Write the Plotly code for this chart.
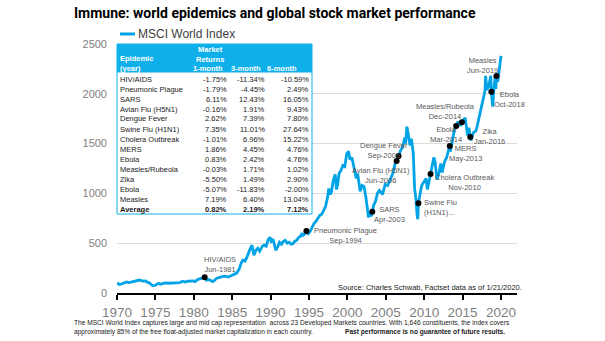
import plotly.graph_objects as go

# ---------------- DATA ----------------
dates = [
 "1970-01","1970-05","1970-07","1970-12","1971-04","1971-08","1971-12","1972-04","1972-08","1972-12",
 "1973-03","1973-06","1973-10","1973-12","1974-03","1974-06","1974-09","1974-12","1975-03","1975-06",
 "1975-09","1975-12","1976-04","1976-09","1976-12","1977-05","1977-10","1978-03","1978-08","1978-11",
 "1979-04","1979-09","1979-12","1980-03","1980-06","1980-11","1981-03","1981-06","1981-09","1981-12",
 "1982-03","1982-07","1982-10","1982-12","1983-04","1983-08","1983-12","1984-03","1984-07","1984-12",
 "1985-04","1985-08","1985-12","1986-03","1986-06","1986-09","1986-12","1987-03","1987-05","1987-08",
 "1987-10","1987-11","1988-02","1988-05","1988-08","1988-12","1989-03","1989-06","1989-09","1989-12",
 "1990-02","1990-05","1990-09","1990-12","1991-03","1991-06","1991-09","1991-12","1992-03","1992-06",
 "1992-09","1992-12","1993-03","1993-06","1993-09","1993-12","1994-02","1994-04","1994-06","1994-09",
 "1994-12","1995-03","1995-06","1995-09","1995-12","1996-03","1996-06","1996-09","1996-12","1997-03",
 "1997-06","1997-08","1997-10","1997-12","1998-03","1998-06","1998-08","1998-10","1998-12","1999-03",
 "1999-06","1999-09","1999-12","2000-03","2000-05","2000-08","2000-10","2000-12","2001-03","2001-05",
 "2001-09","2001-12","2002-03","2002-06","2002-09","2002-10","2002-12","2003-02","2003-04","2003-06",
 "2003-09","2003-12","2004-03","2004-08","2004-12","2005-04","2005-08","2005-12","2006-04","2006-06",
 "2006-09","2006-12","2007-03","2007-07","2007-08","2007-10","2007-12","2008-03","2008-05","2008-08",
 "2008-10","2008-12","2009-02","2009-03","2009-04","2009-06","2009-09","2009-12","2010-04","2010-06",
 "2010-09","2010-11","2011-04","2011-06","2011-09","2011-12","2012-03","2012-05","2012-09","2012-12",
 "2013-03","2013-05","2013-06","2013-09","2013-12","2014-03","2014-06","2014-10","2014-12","2015-05",
 "2015-09","2015-11","2016-01","2016-02","2016-06","2016-10","2016-12","2017-03","2017-06","2017-09",
 "2017-12","2018-01","2018-03","2018-06","2018-09","2018-10","2018-12","2019-02","2019-04","2019-05",
 "2019-06","2019-08","2019-10","2019-12","2020-01"]
msci = [
 100,85,88,98,110,104,110,120,125,130,
 125,120,122,108,105,92,72,75,90,98,
 88,95,102,98,100,102,100,105,118,110,
 118,125,122,115,130,145,148,158,130,135,
 125,115,130,145,155,165,170,168,160,175,
 190,200,240,300,330,320,360,420,440,480,
 400,380,430,450,420,470,480,470,530,560,
 520,540,430,460,510,490,520,530,500,510,
 490,495,520,530,560,570,600,580,590,622,
 595,620,660,700,720,750,780,790,840,870,
 960,1050,990,1010,1130,1190,1040,1100,1200,1230,
 1280,1270,1400,1420,1340,1360,1300,1240,1150,1200,
 1020,1080,1070,960,780,760,810,770,816,880,
 920,1000,1030,990,1090,1080,1140,1200,1310,1325,
 1375,1430,1460,1560,1500,1670,1600,1480,1550,1400,
 1050,950,780,740,900,960,1080,1110,1150,1040,
 1120,1195,1360,1320,1140,1200,1300,1210,1320,1360,
 1430,1476,1420,1540,1630,1677,1720,1680,1714,1760,
 1580,1660,1566,1530,1610,1630,1680,1760,1850,1920,
 2030,2180,2040,2080,2180,2021,1870,2050,2180,2050,
 2179,2120,2230,2350,2380]

event_names = ["HIV/AIDS","Pneumonic Plague","SARS","Avian Flu (H5N1)","Dengue Fever",
               "Swine Flu","Cholera Outbreak","MERS","Ebola","Measles/Rubeola","Zika","Ebola","Measles"]
event_labels = ["Jun-1981","Sep-1994","Apr-2003","Jun-2006","Sep-2006","(H1N1)...","Nov-2010",
                "May-2013","Mar-2014","Dec-2014","Jan-2016","Oct-2018","Jun-2019"]
event_dates = ["1981-06","1994-09","2003-04","2006-06","2006-09","2009-04","2010-11",
               "2013-05","2014-03","2014-12","2016-01","2018-10","2019-06"]
event_values = [158,622,816,1325,1375,900,1195,1476,1677,1714,1566,2021,2179]

table_epidemics = ["HIV/AIDS","Pneumonic Plague","SARS","Avian Flu (H5N1)","Dengue Fever",
                   "Swine Flu (H1N1)","Cholera Outbreak","MERS","Ebola","Measles/Rubeola",
                   "Zika","Ebola","Measles"]
ret_1m = [-1.75,-1.79,6.11,-0.16,2.62,7.35,-1.01,1.86,0.83,-0.03,-5.50,-5.07,7.19]
ret_3m = [-11.34,-4.45,12.43,1.91,7.39,11.01,6.96,4.45,2.42,1.71,1.49,-11.83,6.40]
ret_6m = [-10.59,2.49,16.05,9.43,7.80,27.64,15.22,4.76,4.76,1.02,2.90,-2.00,13.04]
avg_returns = [0.82,2.19,7.12]

y_ticks = [0,500,1000,1500,2000,2500]

# ---------------- STYLE ----------------
W, H = 605, 341
L, R, T, B = 117, 88, 44, 48
PW, PH = W - L - R, H - T - B
BLUE = "#00a3e6"
CYAN = "#0fb0ea"
GRAY = "#595959"
FONT = "Liberation Sans"

def px(x):
    return (x - L) / PW

def py(y):
    return (H - B - y) / PH

fig = go.Figure()
fig.add_trace(go.Scatter(x=dates, y=msci, mode="lines",
                         line=dict(color=BLUE, width=2.8), showlegend=False,
                         hoverinfo="skip"))
fig.add_trace(go.Scatter(x=event_dates, y=event_values, mode="markers",
                         marker=dict(color="black", size=6), showlegend=False,
                         hoverinfo="skip"))

ann = []
# event labels (pixel offsets from the dot)
offsets = [(15,13,"center"),(39,-4.5,"center"),(17,-3,"center"),(-16,-14.5,"center"),
           (-15,5.5,"center"),(4,-4,"left"),(34,-8.5,"center"),(16,-7.5,"center"),
           (-10.5,-9,"center"),(-16,11,"center"),(19.5,1,"center"),(18,-8,"center"),
           (-14,10,"center")]
for n, lab, d, v, (dx, dy, al) in zip(event_names, event_labels, event_dates, event_values, offsets):
    ann.append(dict(x=d, y=v, xref="x", yref="y", text=f"{n}<br>{lab}", showarrow=False,
                    xshift=dx, yshift=dy, xanchor=al if al == "left" else "center",
                    align=al, yanchor="middle",
                    font=dict(family=FONT, size=7.5, color=GRAY)))

# title
ann.append(dict(x=px(72), y=py(13), xref="paper", yref="paper", xanchor="left", yanchor="middle",
                text="<b>Immune: world epidemics and global stock market performance</b>",
                showarrow=False, font=dict(family="Roboto", size=14, color="black")))
# legend text
ann.append(dict(x=px(136), y=py(34), xref="paper", yref="paper", xanchor="left", yanchor="middle",
                text="MSCI World Index", showarrow=False,
                font=dict(family=FONT, size=12, color="#404040")))
# source
ann.append(dict(x=px(336), y=py(287), xref="paper", yref="paper", xanchor="left", yanchor="middle",
                text="Source: Charles Schwab, Factset data as of 1/21/2020.", showarrow=False,
                font=dict(family=FONT, size=7.5, color="#222222")))
# footer
ann.append(dict(x=px(72), y=py(323), xref="paper", yref="paper", xanchor="left", yanchor="middle",
                text="The MSCI World Index captures large and mid cap representation  across 23 Developed Markets countries. With 1,646 constituents, the index covers",
                showarrow=False, font=dict(family=FONT, size=6.6, color="#222222")))
ann.append(dict(x=px(72), y=py(332), xref="paper", yref="paper", xanchor="left", yanchor="middle",
                text="approximately 85% of the free float-adjusted market capitalization in each country.",
                showarrow=False, font=dict(family=FONT, size=6.6, color="#222222")))
ann.append(dict(x=px(343), y=py(332), xref="paper", yref="paper", xanchor="left", yanchor="middle",
                text="<b>Past performance is no guarantee of future results.</b>",
                showarrow=False, font=dict(family=FONT, size=6.6, color="#222222")))

# table
TX0, TX1, TY0, TY1, HY1 = 117, 312, 44, 214, 72.5
shapes = [
    dict(type="rect", xref="paper", yref="paper", x0=px(TX0), x1=px(TX1), y0=py(TY1), y1=py(TY0),
         fillcolor="white", line=dict(color=CYAN, width=1), layer="above"),
    dict(type="rect", xref="paper", yref="paper", x0=px(TX0), x1=px(TX1), y0=py(HY1), y1=py(TY0),
         fillcolor=CYAN, line=dict(width=0), layer="above"),
    dict(type="line", xref="paper", yref="paper", x0=px(120), x1=px(135), y0=py(34), y1=py(34),
         line=dict(color=BLUE, width=3)),
]
hfont = dict(family=FONT, size=7.5, color="white")
ann.append(dict(x=px(210), y=py(54), xref="paper", yref="paper", text="<b>Market<br>Returns</b>",
                showarrow=False, xanchor="center", yanchor="middle", font=hfont))
ann.append(dict(x=px(118), y=py(63.5), xref="paper", yref="paper", text="<b>Epidemic<br>(year)</b>",
                showarrow=False, xanchor="left", yanchor="middle", align="left", font=hfont))
for cx, t in zip([207.5, 246, 281.5], ["1-month", "3-month", "6-month"]):
    ann.append(dict(x=px(cx), y=py(68.3), xref="paper", yref="paper", text=f"<b>{t}</b>",
                    showarrow=False, xanchor="center", yanchor="middle", font=hfont))

rows = list(zip(table_epidemics, ret_1m, ret_3m, ret_6m))
rows.append(("Average", avg_returns[0], avg_returns[1], avg_returns[2]))
vright = [229, 267, 310.5]
for i, (name, a, b, c) in enumerate(rows):
    yy = 79 + 10 * i
    bold = name == "Average" and i == len(rows) - 1
    f = dict(family=FONT, size=7.5, color="#1a1a1a")
    wrap = (lambda s: f"<b>{s}</b>") if bold else (lambda s: s)
    ann.append(dict(x=px(118), y=py(yy), xref="paper", yref="paper", text=wrap(name),
                    showarrow=False, xanchor="left", yanchor="middle", font=f))
    for xr, val in zip(vright, (a, b, c)):
        ann.append(dict(x=px(xr), y=py(yy), xref="paper", yref="paper", text=wrap(f"{val:.2f}%"),
                        showarrow=False, xanchor="right", yanchor="middle", font=f))

fig.update_layout(
    width=W, height=H, margin=dict(l=L, r=R, t=T, b=B),
    paper_bgcolor="white", plot_bgcolor="white",
    annotations=ann, shapes=shapes, showlegend=False,
    xaxis=dict(type="date", range=["1970-01-01", "2022-02-01"], tick0="1970-01-01", dtick="M60",
               tickformat="%Y", showgrid=False, zeroline=False, showline=True,
               linecolor="black", linewidth=1.5, ticks="outside", ticklen=5, tickwidth=1.5,
               tickcolor="black", ticklabelstandoff=1,
               tickfont=dict(family=FONT, size=13.5, color="#7f7f7f")),
    yaxis=dict(range=[0, 2500], tickvals=y_ticks, showgrid=True, gridcolor="#dcdcdc", gridwidth=1,
               zeroline=False, showline=False, ticks="", ticklabelstandoff=9,
               tickfont=dict(family=FONT, size=11, color="#7f7f7f")),
)

fig.write_html("out.html")
